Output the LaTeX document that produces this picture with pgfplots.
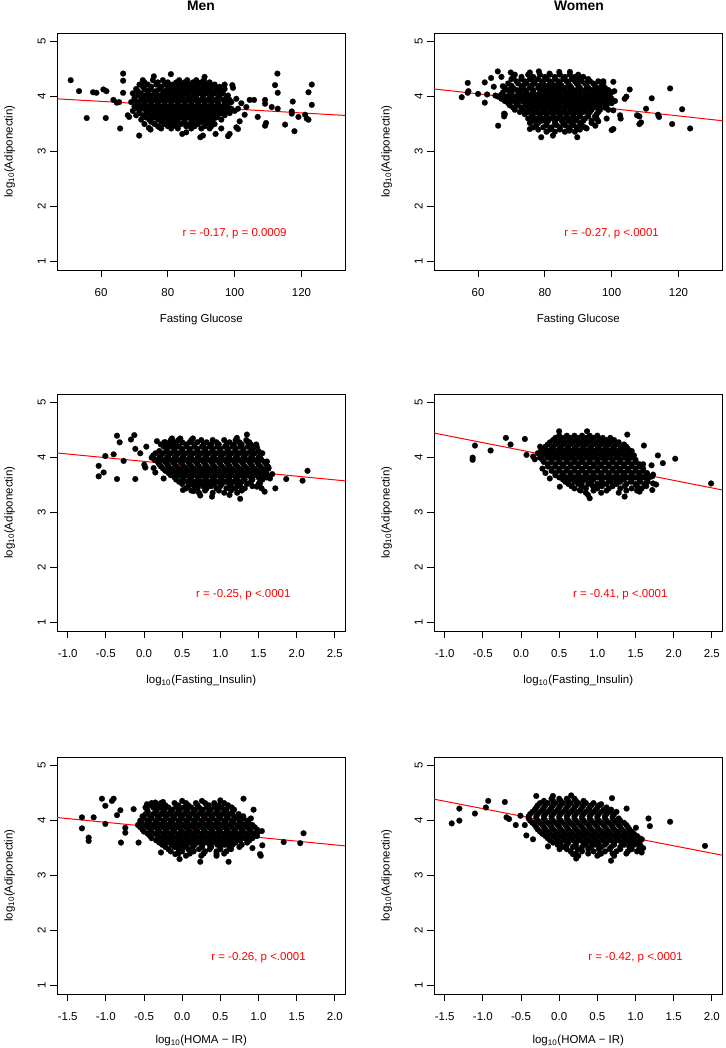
\documentclass[border=0pt]{standalone}
\usepackage{fontspec}
\setmainfont{Liberation Sans}
\usepackage{pgfplots}
\pgfplotsset{compat=1.18}
\pgfplotsset{
  panel/.style={
    scale only axis, width=216.4pt, height=177.75pt, anchor=north west,
    ymin=0.84, ymax=5.16, ytick={1,2,3,4,5}, yticklabels={1,2,3,4,5},
    tick align=outside, xtick pos=left, ytick pos=left,
    major tick length=5pt,
    axis line style={line width=0.7pt},
    tick style={black, line width=0.7pt},
    yticklabel style={rotate=90, anchor=center, inner sep=0pt},
    yticklabel shift=6.45pt,
    xticklabel style={anchor=center, inner sep=0pt},
    xticklabel shift=11.75pt,
    ylabel={log\textsubscript{10}(Adiponectin)},
    ylabel style={at={([xshift=-35.5pt]axis description cs:0,0.5)}, anchor=center, inner sep=0pt},
    xlabel style={at={([yshift=-37.5pt]axis description cs:0.5,0)}, anchor=center, inner sep=0pt},
    clip=false,
  },
  dots/.style={only marks, mark=*, mark size=2.2pt, mark options={fill=black, draw=black, line width=0.1pt}},
  fit/.style={red, line width=0.75pt, no marks},
  glu/.style={xmin=46.8, xmax=133.2, xtick={60,80,100,120}, xticklabels={60,80,100,120}, xlabel={Fasting Glucose}},
  ins/.style={xmin=-1.14, xmax=2.64, xtick={-1,-0.5,0,0.5,1,1.5,2,2.5},
    xticklabels={-1.0,-0.5,0.0,0.5,1.0,1.5,2.0,2.5}, xlabel={log\textsubscript{10}(Fasting\_Insulin)}},
  homa/.style={xmin=-1.64, xmax=2.14, xtick={-1.5,-1,-0.5,0,0.5,1,1.5,2},
    xticklabels={-1.5,-1.0,-0.5,0.0,0.5,1.0,1.5,2.0}, xlabel={log\textsubscript{10}(HOMA − IR)},
    xlabel style={at={([yshift=-35pt]axis description cs:0.5,0)}}},
}
\begin{document}
\begin{tikzpicture}[font=\fontsize{8.6}{10.3}\selectfont]
\path[use as bounding box] (0pt,0pt) rectangle (543.75pt,-786pt);
\node[font=\bfseries\fontsize{10.4}{12}\selectfont] at (150.75pt,-4.5pt) {Men};
\node[font=\bfseries\fontsize{10.4}{12}\selectfont] at (434.25pt,-4.5pt) {Women};

% ---------------- Panel 1: Men, Fasting Glucose
\begin{axis}[panel, glu, at={(42.75pt,-24.75pt)}]
\addplot[dots] coordinates {
(50.9,4.30) (53.4,4.10) (55.7,3.61) (57.6,4.08) (58.6,4.07) (60.7,4.13) (61.6,4.10) (61.4,3.61) (63.7,3.94) (64.7,3.89) (65.4,3.90) (65.7,3.42) (66.6,4.42) (66.6,4.29) (66.6,4.07) (68.0,3.66) (68.4,3.63) (71.4,3.29) (74.3,3.43) (74.8,3.40) (77.5,3.44) (84.3,3.32) (85.5,3.35) (89.7,3.26) (90.5,3.29) (94.3,3.32) (98.0,3.28) (98.5,3.32) (101.0,3.41) (100.5,3.44) (99.3,4.21) (99.5,4.16) (100.5,3.96) (102,3.88) (103.5,3.81) (104.5,3.94) (105.8,3.94) (106.9,3.63) (109.1,3.94) (109.1,3.87) (109.4,3.52) (109.1,3.47) (111.1,3.81) (112.1,4.21) (112.8,4.42) (112.9,4.07) (112.9,3.78) (115.1,3.49) (117.4,3.91) (117.1,3.73) (117.1,3.69) (117.9,3.37) (119.1,3.63) (121.1,3.67) (121.6,3.60) (122.1,3.58) (122.1,4.08) (123.1,4.22) (123.1,3.85) (103.0,3.67) (101,3.78) (101.5,3.55) (80.9,4.41) (75.8,4.37) (91,4.36)
(72.5,4.30) (75.5,4.30) (78.5,4.30) (83.4,4.30) (85.8,4.30) (88.5,4.30) (90.8,4.30)
(71.5,4.22) (74,4.22) (76.5,4.22) (79,4.22) (81.5,4.22) (84,4.22) (86.5,4.22) (89,4.22) (91.5,4.22) (94,4.22) (97,4.22)
(70.5,4.14) (73,4.14) (75,4.14) (77.5,4.14) (80,4.14) (82,4.14) (84.5,4.14) (87,4.14) (89.5,4.14) (92,4.14) (94.5,4.14) (97,4.14)
(69.5,4.06) (72,4.06) (74,4.06) (76,4.06) (78.5,4.06) (80.5,4.06) (82.5,4.06) (85,4.06) (87.5,4.06) (89.5,4.06) (91.5,4.06) (94,4.06) (96.5,4.06)
(70,3.98) (72.5,3.98) (74.5,3.98) (76.5,3.98) (78.5,3.98) (80.5,3.98) (82.5,3.98) (84.5,3.98) (86.5,3.98) (88.5,3.98) (90.5,3.98) (92.5,3.98) (95,3.98) (97.5,3.98)
(69,3.90) (71,3.90) (73,3.90) (75,3.90) (77,3.90) (79,3.90) (81,3.90) (83,3.90) (85,3.90) (87,3.90) (89,3.90) (91,3.90) (93,3.90) (95,3.90) (97.5,3.90) (99,3.90)
(70,3.82) (72,3.82) (74,3.82) (76,3.82) (78,3.82) (80,3.82) (82,3.82) (84,3.82) (86,3.82) (88,3.82) (90,3.82) (92,3.82) (94,3.82) (96,3.82) (98,3.82)
(69.5,3.74) (71.5,3.74) (73.5,3.74) (75.5,3.74) (77.5,3.74) (79.5,3.74) (81.5,3.74) (83.5,3.74) (85.5,3.74) (87.5,3.74) (89.5,3.74) (91.5,3.74) (93.5,3.74) (95.5,3.74) (97.5,3.74) (100,3.74)
(70.5,3.66) (72.5,3.66) (75,3.66) (77,3.66) (79,3.66) (81,3.66) (83,3.66) (85,3.66) (87,3.66) (89,3.66) (91,3.66) (93,3.66) (95,3.66) (97,3.66)
(72,3.58) (74.5,3.58) (77,3.58) (79,3.58) (81,3.58) (83,3.58) (85,3.58) (87,3.58) (89,3.58) (91,3.58) (93.5,3.58) (96,3.58)
(73,3.50) (76,3.50) (79,3.50) (81.5,3.50) (84,3.50) (86.5,3.50) (89,3.50) (91.5,3.50) (94,3.50)
(78,3.42) (81,3.42) (83,3.42) (87,3.42) (90,3.42) (92.5,3.42) (96,3.42)
(73,4.26) (77,4.26) (80,4.26) (82.5,4.26) (85,4.26) (87.5,4.26) (90,4.26) (92.5,4.26)
(72.5,4.18) (75,4.18) (78,4.18) (80.5,4.18) (83,4.18) (85.5,4.18) (88,4.18) (90.5,4.18) (93,4.18) (95.5,4.18)
(71,4.10) (74,4.10) (76.5,4.10) (79,4.10) (81,4.10) (83.5,4.10) (86,4.10) (88.5,4.10) (90.5,4.10) (93,4.10) (95.5,4.10)
(71,4.02) (73,4.02) (75,4.02) (77.5,4.02) (79.5,4.02) (81.5,4.02) (83.5,4.02) (86,4.02) (88,4.02) (90.5,4.02) (93,4.02) (95.5,4.02) (98,4.02)
(70,3.94) (72,3.94) (74,3.94) (76,3.94) (78,3.94) (80,3.94) (82,3.94) (84,3.94) (86,3.94) (88,3.94) (90,3.94) (92,3.94) (94,3.94) (96.5,3.94) (98.5,3.94)
(71,3.86) (73,3.86) (75,3.86) (77,3.86) (79,3.86) (81,3.86) (83,3.86) (85,3.86) (87,3.86) (89,3.86) (91,3.86) (93,3.86) (95,3.86) (97,3.86)
(71,3.78) (73,3.78) (75,3.78) (77,3.78) (79,3.78) (81,3.78) (83,3.78) (85,3.78) (87,3.78) (89,3.78) (91,3.78) (93,3.78) (95,3.78) (97,3.78) (99,3.78)
(71.5,3.70) (74,3.70) (76,3.70) (78,3.70) (80,3.70) (82,3.70) (84,3.70) (86,3.70) (88,3.70) (90,3.70) (92,3.70) (94,3.70) (96,3.70) (98.5,3.70)
(73.5,3.62) (76,3.62) (78,3.62) (80,3.62) (82,3.62) (84,3.62) (86,3.62) (88,3.62) (90,3.62) (92,3.62) (94.5,3.62)
(75,3.54) (78,3.54) (80,3.54) (82.5,3.54) (85,3.54) (87.5,3.54) (90,3.54) (92.5,3.54)
(77,3.46) (80,3.46) (82.5,3.46) (85.5,3.46) (88,3.46) (91,3.46) (93,3.46)
};
\addplot[fit] coordinates {(46.8,3.96) (133.2,3.657)};
\node[text=red] at (axis cs:100,1.5) {r = -0.17, p = 0.0009};
\end{axis}

% ---------------- Panel 2: Women, Fasting Glucose
\begin{axis}[panel, glu, at={(325.5pt,-24.75pt)}]
\addplot[dots] coordinates {
(55.1,3.99) (56.9,4.25) (57.1,4.10) (56.9,4.07) (60.0,4.05) (62.0,4.26) (62.0,3.89) (62.7,4.04) (63.9,4.34) (64.7,4.18) (65.2,4.02) (65.9,4.46) (66.0,3.47) (67.0,4.36) (67.4,4.19) (67.8,3.69) (67.8,3.64) (69.8,4.44) (70.6,4.36) (75.5,4.44) (78.2,4.46) (81.4,4.42) (84.3,4.45) (87.5,4.45) (90.2,4.37) (93.0,4.30) (75.5,3.41) (78.9,3.26) (82.4,3.29) (87.3,3.38) (89.7,3.26) (95.1,3.47) (97.5,4.28) (100.5,4.27) (100.8,4.10) (103.9,3.96) (104.4,4.00) (105.4,4.13) (100.5,3.41) (100.0,3.39) (102.5,3.66) (102.7,3.60) (100.5,3.75) (107.6,3.66) (108.3,3.64) (108.8,3.53) (108.3,3.50) (110.3,3.78) (112.0,3.97) (113.9,3.67) (114.2,3.63) (117.5,4.15) (118.1,3.50) (121.1,3.77) (123.5,3.42) (92.5,3.42) (96,3.55) (98.5,3.60)
(71,4.40) (75,4.40) (78.5,4.40) (81.5,4.40) (84.5,4.40) (87.5,4.40) (90,4.40)
(70,4.32) (73,4.32) (75.5,4.32) (78,4.32) (80.5,4.32) (83,4.32) (85.5,4.32) (88,4.32) (90.5,4.32) (93,4.32)
(69,4.24) (72,4.24) (74.5,4.24) (77,4.24) (79.5,4.24) (82,4.24) (84.5,4.24) (87,4.24) (89.5,4.24) (92,4.24) (94.5,4.24) (97.5,4.24)
(68,4.16) (70.5,4.16) (73,4.16) (75.5,4.16) (78,4.16) (80,4.16) (82,4.16) (84,4.16) (86,4.16) (88,4.16) (90.5,4.16) (93,4.16) (95.5,4.16) (98,4.16)
(67.5,4.08) (70,4.08) (72.5,4.08) (74.5,4.08) (76.5,4.08) (78.5,4.08) (80.5,4.08) (82.5,4.08) (84.5,4.08) (86.5,4.08) (88.5,4.08) (90.5,4.08) (92.5,4.08) (95,4.08) (97.5,4.08) (100,4.08)
(66,4.00) (68.5,4.00) (71,4.00) (73,4.00) (75,4.00) (77,4.00) (79,4.00) (81,4.00) (83,4.00) (85,4.00) (87,4.00) (89,4.00) (91,4.00) (93,4.00) (95,4.00) (97,4.00) (99.5,4.00)
(68,3.92) (70.5,3.92) (73,3.92) (75,3.92) (77,3.92) (79,3.92) (81,3.92) (83,3.92) (85,3.92) (87,3.92) (89,3.92) (91,3.92) (93,3.92) (95,3.92) (97,3.92) (99,3.92) (101,3.92)
(69.5,3.84) (72,3.84) (74.5,3.84) (76.5,3.84) (78.5,3.84) (80.5,3.84) (82.5,3.84) (84.5,3.84) (86.5,3.84) (88.5,3.84) (90.5,3.84) (92.5,3.84) (94.5,3.84) (96.5,3.84) (98.5,3.84)
(71,3.76) (73.5,3.76) (76,3.76) (78,3.76) (80,3.76) (82,3.76) (84,3.76) (86,3.76) (88,3.76) (90,3.76) (92,3.76) (94,3.76) (96.5,3.76) (99,3.76)
(68,3.68) (74,3.68) (76.5,3.68) (78.5,3.68) (80.5,3.68) (82.5,3.68) (84.5,3.68) (86.5,3.68) (88.5,3.68) (90.5,3.68) (93,3.68) (95.5,3.68)
(75,3.60) (77.5,3.60) (79.5,3.60) (81.5,3.60) (83.5,3.60) (85.5,3.60) (87.5,3.60) (89.5,3.60) (92,3.60) (95.5,3.60)
(75.5,3.52) (78,3.52) (80.5,3.52) (83,3.52) (85.5,3.52) (88,3.52) (90.5,3.52) (94,3.52)
(76.5,3.44) (79.5,3.44) (82,3.44) (84.5,3.44) (87,3.44) (89.5,3.44) (92,3.44)
(80.5,3.36) (83,3.36) (86,3.36) (89,3.36)
(73,4.36) (76.5,4.36) (80,4.36) (83,4.36) (86,4.36) (89,4.36) (91.5,4.36)
(71.5,4.28) (74,4.28) (76.5,4.28) (79,4.28) (81.5,4.28) (84,4.28) (86.5,4.28) (89,4.28) (91,4.28) (93.5,4.28) (96,4.28)
(70,4.20) (73.5,4.20) (76,4.20) (78.5,4.20) (81,4.20) (83,4.20) (85,4.20) (87.5,4.20) (90,4.20) (92.5,4.20) (95,4.20) (97,4.20)
(69,4.12) (71.5,4.12) (74,4.12) (76.5,4.12) (79,4.12) (81,4.12) (83,4.12) (85,4.12) (87.5,4.12) (89.5,4.12) (92,4.12) (94,4.12) (96.5,4.12) (99,4.12)
(67,4.04) (69.5,4.04) (72,4.04) (74,4.04) (76,4.04) (78,4.04) (80,4.04) (82,4.04) (84,4.04) (86,4.04) (88,4.04) (90,4.04) (92,4.04) (94,4.04) (96,4.04) (98.5,4.04)
(67,3.96) (69.5,3.96) (72,3.96) (74,3.96) (76,3.96) (78,3.96) (80,3.96) (82,3.96) (84,3.96) (86,3.96) (88,3.96) (90,3.96) (92,3.96) (94,3.96) (96,3.96) (98,3.96) (100,3.96)
(69,3.88) (71.5,3.88) (74,3.88) (76,3.88) (78,3.88) (80,3.88) (82,3.88) (84,3.88) (86,3.88) (88,3.88) (90,3.88) (92,3.88) (94,3.88) (96,3.88) (98,3.88) (100,3.88)
(70.5,3.80) (73,3.80) (75,3.80) (77.5,3.80) (79.5,3.80) (81.5,3.80) (83.5,3.80) (85.5,3.80) (87.5,3.80) (89.5,3.80) (91.5,3.80) (93.5,3.80) (95.5,3.80) (98,3.80)
(72.5,3.72) (75,3.72) (77.5,3.72) (79.5,3.72) (81.5,3.72) (83.5,3.72) (85.5,3.72) (87.5,3.72) (89.5,3.72) (91.5,3.72) (93.5,3.72) (96,3.72)
(76,3.64) (78.5,3.64) (80.5,3.64) (82.5,3.64) (84.5,3.64) (86.5,3.64) (88.5,3.64) (90.5,3.64) (93,3.64) (95,3.64)
(76.5,3.56) (79,3.56) (81,3.56) (83,3.56) (85,3.56) (87,3.56) (89,3.56) (91.5,3.56) (94,3.56)
(77.5,3.48) (80.5,3.48) (83.5,3.48) (86,3.48) (88.5,3.48) (91,3.48)
(78,3.40) (81.5,3.40) (84.5,3.40) (87.5,3.40) (90.5,3.40)
};
\addplot[fit] coordinates {(46.8,4.14) (133.2,3.56)};
\node[text=red] at (axis cs:100,1.5) {r = -0.27, p <.0001};
\end{axis}

% ---------------- Panel 3: Men, Insulin
\begin{axis}[panel, ins, at={(42.75pt,-295.5pt)}]
\addplot[dots] coordinates {
(-0.594,3.85) (-0.594,3.66) (-0.529,3.73) (-0.507,4.03) (-0.354,4.40) (-0.319,4.28) (-0.398,4.06) (-0.354,3.61) (-0.267,3.94) (-0.171,4.33) (-0.127,4.41) (-0.114,4.16) (-0.114,3.61) (-0.049,4.08) (0.030,4.20) (0.004,3.87) (0.017,3.82) (0.169,4.30) (0.265,4.28) (0.126,3.81) (0.148,3.73) (0.257,3.62) (0.366,4.35) (0.379,4.28) (0.475,4.35) (0.641,4.35) (1.217,4.36) (1.348,4.42) (1.348,4.30) (1.479,4.19) (1.61,3.93) (1.63,3.82) (1.72,3.44) (1.863,3.61) (2.077,3.58) (2.142,3.76) (1.52,3.53) (1.54,3.44) (0.51,3.41) (0.65,3.39) (0.737,3.31) (0.89,3.29) (1.12,3.32) (1.26,3.25) (1.48,3.47) (1.58,3.38) (1.65,3.62) (1.68,3.70)
(0.35,4.32) (0.45,4.32) (0.62,4.32) (0.75,4.32) (0.90,4.32) (1.05,4.32) (1.20,4.32) (1.34,4.32)
(0.22,4.24) (0.32,4.24) (0.42,4.24) (0.55,4.24) (0.66,4.24) (0.78,4.24) (0.88,4.24) (0.98,4.24) (1.08,4.24) (1.18,4.24) (1.28,4.24) (1.40,4.24) (1.47,4.24)
(0.30,4.16) (0.40,4.16) (0.50,4.16) (0.60,4.16) (0.70,4.16) (0.80,4.16) (0.90,4.16) (1.00,4.16) (1.10,4.16) (1.20,4.16) (1.30,4.16) (1.42,4.16)
(0.15,4.08) (0.25,4.08) (0.35,4.08) (0.45,4.08) (0.55,4.08) (0.65,4.08) (0.75,4.08) (0.85,4.08) (0.95,4.08) (1.05,4.08) (1.15,4.08) (1.25,4.08) (1.35,4.08) (1.45,4.08) (1.55,4.08)
(0.10,4.00) (0.20,4.00) (0.30,4.00) (0.40,4.00) (0.50,4.00) (0.60,4.00) (0.70,4.00) (0.80,4.00) (0.90,4.00) (1.00,4.00) (1.10,4.00) (1.20,4.00) (1.30,4.00) (1.40,4.00) (1.50,4.00)
(0.18,3.92) (0.28,3.92) (0.38,3.92) (0.48,3.92) (0.58,3.92) (0.68,3.92) (0.78,3.92) (0.88,3.92) (0.98,3.92) (1.08,3.92) (1.18,3.92) (1.28,3.92) (1.38,3.92) (1.48,3.92) (1.58,3.92)
(0.22,3.84) (0.32,3.84) (0.42,3.84) (0.52,3.84) (0.62,3.84) (0.72,3.84) (0.82,3.84) (0.92,3.84) (1.02,3.84) (1.12,3.84) (1.22,3.84) (1.32,3.84) (1.42,3.84) (1.52,3.84) (1.62,3.84)
(0.28,3.76) (0.38,3.76) (0.48,3.76) (0.58,3.76) (0.68,3.76) (0.78,3.76) (0.88,3.76) (0.98,3.76) (1.08,3.76) (1.18,3.76) (1.28,3.76) (1.38,3.76) (1.48,3.76) (1.58,3.76)
(0.35,3.68) (0.45,3.68) (0.55,3.68) (0.65,3.68) (0.75,3.68) (0.85,3.68) (0.95,3.68) (1.05,3.68) (1.15,3.68) (1.25,3.68) (1.35,3.68) (1.45,3.68) (1.55,3.68) (1.62,3.68)
(0.42,3.60) (0.52,3.60) (0.62,3.60) (0.72,3.60) (0.82,3.60) (0.92,3.60) (1.02,3.60) (1.12,3.60) (1.22,3.60) (1.32,3.60) (1.42,3.60) (1.55,3.60)
(0.50,3.52) (0.62,3.52) (0.72,3.52) (0.82,3.52) (0.92,3.52) (1.02,3.52) (1.12,3.52) (1.22,3.52) (1.35,3.52) (1.50,3.52)
(0.55,3.44) (0.70,3.44) (0.82,3.44) (0.95,3.44) (1.08,3.44) (1.20,3.44) (1.32,3.44)
(0.72,3.36) (0.90,3.36) (1.05,3.36) (1.22,3.36)
(0.28,4.28) (0.40,4.28) (0.50,4.28) (0.60,4.28) (0.70,4.28) (0.82,4.28) (0.95,4.28) (1.12,4.28) (1.25,4.28) (1.38,4.28)
(0.26,4.20) (0.36,4.20) (0.46,4.20) (0.56,4.20) (0.66,4.20) (0.76,4.20) (0.86,4.20) (0.96,4.20) (1.06,4.20) (1.16,4.20) (1.26,4.20) (1.36,4.20) (1.45,4.20)
(0.20,4.12) (0.30,4.12) (0.40,4.12) (0.50,4.12) (0.60,4.12) (0.70,4.12) (0.80,4.12) (0.90,4.12) (1.00,4.12) (1.10,4.12) (1.20,4.12) (1.30,4.12) (1.40,4.12) (1.50,4.12)
(0.12,4.04) (0.22,4.04) (0.32,4.04) (0.42,4.04) (0.52,4.04) (0.62,4.04) (0.72,4.04) (0.82,4.04) (0.92,4.04) (1.02,4.04) (1.12,4.04) (1.22,4.04) (1.32,4.04) (1.42,4.04) (1.52,4.04)
(0.14,3.96) (0.24,3.96) (0.34,3.96) (0.44,3.96) (0.54,3.96) (0.64,3.96) (0.74,3.96) (0.84,3.96) (0.94,3.96) (1.04,3.96) (1.14,3.96) (1.24,3.96) (1.34,3.96) (1.44,3.96) (1.54,3.96)
(0.20,3.88) (0.30,3.88) (0.40,3.88) (0.50,3.88) (0.60,3.88) (0.70,3.88) (0.80,3.88) (0.90,3.88) (1.00,3.88) (1.10,3.88) (1.20,3.88) (1.30,3.88) (1.40,3.88) (1.50,3.88) (1.60,3.88)
(0.25,3.80) (0.35,3.80) (0.45,3.80) (0.55,3.80) (0.65,3.80) (0.75,3.80) (0.85,3.80) (0.95,3.80) (1.05,3.80) (1.15,3.80) (1.25,3.80) (1.35,3.80) (1.45,3.80) (1.55,3.80) (1.63,3.80)
(0.32,3.72) (0.42,3.72) (0.52,3.72) (0.62,3.72) (0.72,3.72) (0.82,3.72) (0.92,3.72) (1.02,3.72) (1.12,3.72) (1.22,3.72) (1.32,3.72) (1.42,3.72) (1.52,3.72) (1.60,3.72)
(0.40,3.64) (0.50,3.64) (0.60,3.64) (0.70,3.64) (0.80,3.64) (0.90,3.64) (1.00,3.64) (1.10,3.64) (1.20,3.64) (1.30,3.64) (1.40,3.64) (1.50,3.64) (1.60,3.64)
(0.46,3.56) (0.57,3.56) (0.67,3.56) (0.77,3.56) (0.87,3.56) (0.97,3.56) (1.07,3.56) (1.17,3.56) (1.28,3.56) (1.40,3.56) (1.52,3.56)
(0.58,3.48) (0.66,3.48) (0.77,3.48) (0.88,3.48) (1.00,3.48) (1.14,3.48) (1.26,3.48) (1.42,3.48)
(0.62,3.40) (0.80,3.40) (0.98,3.40) (1.14,3.40) (1.28,3.40)
};
\addplot[fit] coordinates {(-1.14,4.085) (2.64,3.576)};
\node[text=red] at (axis cs:1.3,1.5) {r = -0.25, p <.0001};
\end{axis}

% ---------------- Panel 4: Women, Insulin
\begin{axis}[panel, ins, at={(325.5pt,-295.5pt)}]
\addplot[dots] coordinates {
(-0.634,4.00) (-0.634,3.96) (-0.603,4.22) (-0.398,4.13) (-0.198,4.36) (-0.137,4.24) (0.050,4.34) (0.072,4.05) (0.159,4.02) (0.181,3.97) (0.25,4.20) (0.499,4.48) (0.865,4.48) (1.392,4.42) (1.61,4.22) (1.60,3.88) (1.71,3.86) (1.73,3.69) (1.72,3.66) (1.793,4.04) (1.858,3.90) (2.02,3.98) (2.49,3.53) (1.73,3.53) (1.77,3.51) (1.72,3.41) (0.377,3.62) (0.508,3.47) (0.77,3.41) (0.878,3.32) (0.90,3.26) (1.357,3.29) (1.553,3.38) (0.28,3.80) (0.32,3.72)
(0.50,4.40) (0.60,4.40) (0.70,4.40) (0.80,4.40) (0.90,4.40) (1.00,4.40)
(0.42,4.32) (0.52,4.32) (0.62,4.32) (0.72,4.32) (0.82,4.32) (0.92,4.32) (1.02,4.32) (1.12,4.32) (1.22,4.32)
(0.35,4.24) (0.45,4.24) (0.55,4.24) (0.65,4.24) (0.75,4.24) (0.85,4.24) (0.95,4.24) (1.05,4.24) (1.15,4.24) (1.25,4.24) (1.35,4.24)
(0.30,4.16) (0.40,4.16) (0.50,4.16) (0.60,4.16) (0.70,4.16) (0.80,4.16) (0.90,4.16) (1.00,4.16) (1.10,4.16) (1.20,4.16) (1.30,4.16) (1.40,4.16)
(0.22,4.08) (0.32,4.08) (0.42,4.08) (0.52,4.08) (0.62,4.08) (0.72,4.08) (0.82,4.08) (0.92,4.08) (1.02,4.08) (1.12,4.08) (1.22,4.08) (1.32,4.08) (1.42,4.08)
(0.25,4.00) (0.35,4.00) (0.45,4.00) (0.55,4.00) (0.65,4.00) (0.75,4.00) (0.85,4.00) (0.95,4.00) (1.05,4.00) (1.15,4.00) (1.25,4.00) (1.35,4.00) (1.45,4.00)
(0.30,3.92) (0.40,3.92) (0.50,3.92) (0.60,3.92) (0.70,3.92) (0.80,3.92) (0.90,3.92) (1.00,3.92) (1.10,3.92) (1.20,3.92) (1.30,3.92) (1.40,3.92) (1.50,3.92)
(0.35,3.84) (0.45,3.84) (0.55,3.84) (0.65,3.84) (0.75,3.84) (0.85,3.84) (0.95,3.84) (1.05,3.84) (1.15,3.84) (1.25,3.84) (1.35,3.84) (1.45,3.84) (1.55,3.84)
(0.40,3.76) (0.50,3.76) (0.60,3.76) (0.70,3.76) (0.80,3.76) (0.90,3.76) (1.00,3.76) (1.10,3.76) (1.20,3.76) (1.30,3.76) (1.40,3.76) (1.50,3.76) (1.60,3.76)
(0.45,3.68) (0.55,3.68) (0.65,3.68) (0.75,3.68) (0.85,3.68) (0.95,3.68) (1.05,3.68) (1.15,3.68) (1.25,3.68) (1.35,3.68) (1.45,3.68) (1.55,3.68) (1.65,3.68)
(0.55,3.60) (0.65,3.60) (0.75,3.60) (0.85,3.60) (0.95,3.60) (1.05,3.60) (1.15,3.60) (1.25,3.60) (1.35,3.60) (1.45,3.60) (1.55,3.60) (1.65,3.60)
(0.62,3.52) (0.75,3.52) (0.88,3.52) (1.00,3.52) (1.12,3.52) (1.25,3.52) (1.38,3.52) (1.50,3.52) (1.62,3.52)
(0.70,3.44) (0.85,3.44) (1.00,3.44) (1.15,3.44) (1.30,3.44) (1.45,3.44) (1.58,3.44)
(0.85,3.36) (1.05,3.36) (1.28,3.36)
(0.45,4.36) (0.55,4.36) (0.65,4.36) (0.75,4.36) (0.85,4.36) (0.95,4.36) (1.07,4.36) (1.17,4.36)
(0.38,4.28) (0.48,4.28) (0.58,4.28) (0.68,4.28) (0.78,4.28) (0.88,4.28) (0.98,4.28) (1.08,4.28) (1.18,4.28) (1.28,4.28)
(0.32,4.20) (0.42,4.20) (0.52,4.20) (0.62,4.20) (0.72,4.20) (0.82,4.20) (0.92,4.20) (1.02,4.20) (1.12,4.20) (1.22,4.20) (1.32,4.20) (1.38,4.20)
(0.26,4.12) (0.36,4.12) (0.46,4.12) (0.56,4.12) (0.66,4.12) (0.76,4.12) (0.86,4.12) (0.96,4.12) (1.06,4.12) (1.16,4.12) (1.26,4.12) (1.36,4.12) (1.45,4.12)
(0.28,4.04) (0.38,4.04) (0.48,4.04) (0.58,4.04) (0.68,4.04) (0.78,4.04) (0.88,4.04) (0.98,4.04) (1.08,4.04) (1.18,4.04) (1.28,4.04) (1.38,4.04) (1.48,4.04)
(0.28,3.96) (0.40,3.96) (0.50,3.96) (0.60,3.96) (0.70,3.96) (0.80,3.96) (0.90,3.96) (1.00,3.96) (1.10,3.96) (1.20,3.96) (1.30,3.96) (1.40,3.96) (1.50,3.96)
(0.35,3.88) (0.45,3.88) (0.55,3.88) (0.65,3.88) (0.75,3.88) (0.85,3.88) (0.95,3.88) (1.05,3.88) (1.15,3.88) (1.25,3.88) (1.35,3.88) (1.45,3.88) (1.55,3.88)
(0.40,3.80) (0.50,3.80) (0.60,3.80) (0.70,3.80) (0.80,3.80) (0.90,3.80) (1.00,3.80) (1.10,3.80) (1.20,3.80) (1.30,3.80) (1.40,3.80) (1.50,3.80) (1.60,3.80)
(0.45,3.72) (0.55,3.72) (0.65,3.72) (0.75,3.72) (0.85,3.72) (0.95,3.72) (1.05,3.72) (1.15,3.72) (1.25,3.72) (1.35,3.72) (1.45,3.72) (1.55,3.72) (1.65,3.72)
(0.50,3.64) (0.60,3.64) (0.70,3.64) (0.80,3.64) (0.90,3.64) (1.00,3.64) (1.10,3.64) (1.20,3.64) (1.30,3.64) (1.40,3.64) (1.50,3.64) (1.60,3.64) (1.68,3.64)
(0.58,3.56) (0.70,3.56) (0.80,3.56) (0.92,3.56) (1.06,3.56) (1.18,3.56) (1.30,3.56) (1.44,3.56) (1.56,3.56) (1.66,3.56)
(0.66,3.48) (0.80,3.48) (0.94,3.48) (1.06,3.48) (1.20,3.48) (1.36,3.48) (1.52,3.48) (1.64,3.48)
(0.78,3.40) (0.95,3.40) (1.12,3.40) (1.38,3.40) (1.52,3.40)
};
\addplot[fit] coordinates {(-1.14,4.449) (2.64,3.41)};
\node[text=red] at (axis cs:1.3,1.5) {r = -0.41, p <.0001};
\end{axis}

% ---------------- Panel 5: Men, HOMA-IR
\begin{axis}[panel, homa, at={(42.75pt,-567.75pt)}]
\addplot[dots] coordinates {
(-1.313,4.06) (-1.313,3.86) (-1.225,3.69) (-1.225,3.63) (-1.160,4.06) (-1.051,4.40) (-1.007,4.27) (-0.92,4.36) (-0.898,4.40) (-1.007,3.94) (-0.854,4.10) (-0.81,4.19) (-0.802,3.60) (-0.745,3.87) (-0.745,3.78) (-0.636,4.21) (-0.571,3.60) (-0.461,4.30) (-0.352,4.33) (-0.252,4.34) (0.804,4.40) (0.935,4.20) (0.90,4.04) (1.044,3.81) (1.02,3.39) (1.03,3.36) (0.98,3.72) (1.33,3.61) (1.546,3.59) (1.59,3.77) (0.75,4.05) (-0.278,3.42) (-0.09,3.39) (-0.034,3.30) (0.237,3.25) (0.608,3.25) (0.0,4.36) (0.259,4.36) (0.499,4.37) (1.05,3.55) (0.92,3.50)
(-0.40,4.32) (-0.28,4.32) (-0.10,4.32) (0.05,4.32) (0.18,4.32) (0.30,4.32) (0.42,4.32) (0.55,4.32)
(-0.48,4.24) (-0.38,4.24) (-0.28,4.24) (-0.18,4.24) (-0.08,4.24) (0.02,4.24) (0.12,4.24) (0.22,4.24) (0.32,4.24) (0.42,4.24) (0.52,4.24) (0.65,4.24)
(-0.45,4.16) (-0.35,4.16) (-0.25,4.16) (-0.15,4.16) (-0.05,4.16) (0.05,4.16) (0.15,4.16) (0.25,4.16) (0.35,4.16) (0.45,4.16) (0.55,4.16) (0.66,4.16)
(-0.52,4.08) (-0.42,4.08) (-0.32,4.08) (-0.22,4.08) (-0.12,4.08) (-0.02,4.08) (0.08,4.08) (0.18,4.08) (0.28,4.08) (0.38,4.08) (0.48,4.08) (0.58,4.08) (0.68,4.08) (0.80,4.08)
(-0.55,4.00) (-0.45,4.00) (-0.35,4.00) (-0.25,4.00) (-0.15,4.00) (-0.05,4.00) (0.05,4.00) (0.15,4.00) (0.25,4.00) (0.35,4.00) (0.45,4.00) (0.55,4.00) (0.65,4.00) (0.75,4.00) (0.85,4.00)
(-0.58,3.92) (-0.48,3.92) (-0.38,3.92) (-0.28,3.92) (-0.18,3.92) (-0.08,3.92) (0.02,3.92) (0.12,3.92) (0.22,3.92) (0.32,3.92) (0.42,3.92) (0.52,3.92) (0.62,3.92) (0.72,3.92) (0.82,3.92) (0.92,3.92)
(-0.52,3.84) (-0.42,3.84) (-0.32,3.84) (-0.22,3.84) (-0.12,3.84) (-0.02,3.84) (0.08,3.84) (0.18,3.84) (0.28,3.84) (0.38,3.84) (0.48,3.84) (0.58,3.84) (0.68,3.84) (0.78,3.84) (0.88,3.84) (0.98,3.84)
(-0.45,3.76) (-0.35,3.76) (-0.25,3.76) (-0.15,3.76) (-0.05,3.76) (0.05,3.76) (0.15,3.76) (0.25,3.76) (0.35,3.76) (0.45,3.76) (0.55,3.76) (0.65,3.76) (0.75,3.76) (0.85,3.76) (0.95,3.76)
(-0.40,3.68) (-0.28,3.68) (-0.18,3.68) (-0.08,3.68) (0.02,3.68) (0.12,3.68) (0.22,3.68) (0.32,3.68) (0.42,3.68) (0.52,3.68) (0.62,3.68) (0.72,3.68) (0.82,3.68) (0.92,3.68)
(-0.30,3.60) (-0.20,3.60) (-0.10,3.60) (0.00,3.60) (0.10,3.60) (0.20,3.60) (0.30,3.60) (0.40,3.60) (0.50,3.60) (0.60,3.60) (0.70,3.60) (0.85,3.60)
(-0.22,3.52) (-0.10,3.52) (0.02,3.52) (0.14,3.52) (0.26,3.52) (0.38,3.52) (0.50,3.52) (0.62,3.52) (0.75,3.52)
(-0.15,3.44) (0.00,3.44) (0.15,3.44) (0.30,3.44) (0.45,3.44) (0.58,3.44)
(0.05,3.36) (0.25,3.36) (0.45,3.36)
(-0.44,4.28) (-0.34,4.28) (-0.22,4.28) (-0.05,4.28) (0.08,4.28) (0.20,4.28) (0.35,4.28) (0.48,4.28) (0.60,4.28)
(-0.46,4.20) (-0.33,4.20) (-0.23,4.20) (-0.13,4.20) (-0.03,4.20) (0.07,4.20) (0.17,4.20) (0.27,4.20) (0.37,4.20) (0.47,4.20) (0.58,4.20) (0.68,4.20)
(-0.48,4.12) (-0.38,4.12) (-0.28,4.12) (-0.18,4.12) (-0.08,4.12) (0.02,4.12) (0.12,4.12) (0.22,4.12) (0.32,4.12) (0.42,4.12) (0.52,4.12) (0.62,4.12) (0.74,4.12)
(-0.50,4.04) (-0.40,4.04) (-0.30,4.04) (-0.20,4.04) (-0.10,4.04) (0.00,4.04) (0.10,4.04) (0.20,4.04) (0.30,4.04) (0.40,4.04) (0.50,4.04) (0.60,4.04) (0.70,4.04) (0.80,4.04)
(-0.53,3.96) (-0.43,3.96) (-0.33,3.96) (-0.23,3.96) (-0.13,3.96) (-0.03,3.96) (0.07,3.96) (0.17,3.96) (0.27,3.96) (0.37,3.96) (0.47,3.96) (0.57,3.96) (0.67,3.96) (0.77,3.96) (0.87,3.96)
(-0.55,3.88) (-0.45,3.88) (-0.35,3.88) (-0.25,3.88) (-0.15,3.88) (-0.05,3.88) (0.05,3.88) (0.15,3.88) (0.25,3.88) (0.35,3.88) (0.45,3.88) (0.55,3.88) (0.65,3.88) (0.75,3.88) (0.85,3.88) (0.95,3.88)
(-0.50,3.80) (-0.40,3.80) (-0.30,3.80) (-0.20,3.80) (-0.10,3.80) (0.00,3.80) (0.10,3.80) (0.20,3.80) (0.30,3.80) (0.40,3.80) (0.50,3.80) (0.60,3.80) (0.70,3.80) (0.80,3.80) (0.90,3.80) (1.00,3.80)
(-0.42,3.72) (-0.32,3.72) (-0.22,3.72) (-0.12,3.72) (-0.02,3.72) (0.08,3.72) (0.18,3.72) (0.28,3.72) (0.38,3.72) (0.48,3.72) (0.58,3.72) (0.68,3.72) (0.78,3.72) (0.88,3.72) (0.96,3.72)
(-0.34,3.64) (-0.24,3.64) (-0.14,3.64) (-0.04,3.64) (0.06,3.64) (0.16,3.64) (0.26,3.64) (0.36,3.64) (0.46,3.64) (0.56,3.64) (0.66,3.64) (0.76,3.64) (0.88,3.64)
(-0.26,3.56) (-0.14,3.56) (-0.04,3.56) (0.06,3.56) (0.16,3.56) (0.26,3.56) (0.36,3.56) (0.46,3.56) (0.56,3.56) (0.66,3.56) (0.78,3.56)
(-0.18,3.48) (-0.05,3.48) (0.08,3.48) (0.22,3.48) (0.36,3.48) (0.50,3.48) (0.64,3.48)
(-0.05,3.40) (0.10,3.40) (0.28,3.40) (0.45,3.40) (0.55,3.40)
};
\addplot[fit] coordinates {(-1.64,4.057) (2.14,3.539)};
\node[text=red] at (axis cs:1.0,1.5) {r = -0.26, p <.0001};
\end{axis}

% ---------------- Panel 6: Women, HOMA-IR
\begin{axis}[panel, homa, at={(325.5pt,-567.75pt)}]
\addplot[dots] coordinates {
(-1.408,3.95) (-1.308,4.22) (-1.308,4.00) (-1.104,4.13) (-0.96,4.24) (-0.93,4.36) (-0.712,4.34) (-0.69,4.06) (-0.656,4.03) (-0.569,3.92) (-0.508,4.09) (-0.451,3.92) (-0.43,3.73) (-0.30,4.45) (-0.343,3.66) (-0.082,4.45) (0.157,4.46) (0.692,4.41) (0.883,4.22) (1.005,3.87) (1.083,3.66) (1.17,4.04) (1.188,3.90) (1.453,3.98) (1.91,3.54) (-0.147,3.53) (0.005,3.48) (0.179,3.39) (0.222,3.31) (0.527,3.39) (0.679,3.27) (1.10,3.50) (1.08,3.42) (0.55,4.30)
(-0.10,4.40) (0.00,4.40) (0.10,4.40) (0.20,4.40)
(-0.25,4.32) (-0.15,4.32) (-0.05,4.32) (0.05,4.32) (0.15,4.32) (0.25,4.32) (0.35,4.32) (0.45,4.32)
(-0.30,4.24) (-0.20,4.24) (-0.10,4.24) (0.00,4.24) (0.10,4.24) (0.20,4.24) (0.30,4.24) (0.40,4.24) (0.50,4.24) (0.62,4.24)
(-0.35,4.16) (-0.25,4.16) (-0.15,4.16) (-0.05,4.16) (0.05,4.16) (0.15,4.16) (0.25,4.16) (0.35,4.16) (0.45,4.16) (0.55,4.16) (0.65,4.16) (0.75,4.16)
(-0.40,4.08) (-0.30,4.08) (-0.20,4.08) (-0.10,4.08) (0.00,4.08) (0.10,4.08) (0.20,4.08) (0.30,4.08) (0.40,4.08) (0.50,4.08) (0.60,4.08) (0.70,4.08)
(-0.38,4.00) (-0.28,4.00) (-0.18,4.00) (-0.08,4.00) (0.02,4.00) (0.12,4.00) (0.22,4.00) (0.32,4.00) (0.42,4.00) (0.52,4.00) (0.62,4.00) (0.72,4.00) (0.80,4.00)
(-0.32,3.92) (-0.22,3.92) (-0.12,3.92) (-0.02,3.92) (0.08,3.92) (0.18,3.92) (0.28,3.92) (0.38,3.92) (0.48,3.92) (0.58,3.92) (0.68,3.92) (0.78,3.92) (0.88,3.92)
(-0.28,3.84) (-0.18,3.84) (-0.08,3.84) (0.02,3.84) (0.12,3.84) (0.22,3.84) (0.32,3.84) (0.42,3.84) (0.52,3.84) (0.62,3.84) (0.72,3.84) (0.82,3.84) (0.92,3.84)
(-0.22,3.76) (-0.12,3.76) (-0.02,3.76) (0.08,3.76) (0.18,3.76) (0.28,3.76) (0.38,3.76) (0.48,3.76) (0.58,3.76) (0.68,3.76) (0.78,3.76) (0.88,3.76) (0.98,3.76)
(-0.15,3.68) (-0.05,3.68) (0.05,3.68) (0.15,3.68) (0.25,3.68) (0.35,3.68) (0.45,3.68) (0.55,3.68) (0.65,3.68) (0.75,3.68) (0.85,3.68) (0.95,3.68) (1.05,3.68)
(-0.08,3.60) (0.02,3.60) (0.12,3.60) (0.22,3.60) (0.32,3.60) (0.42,3.60) (0.52,3.60) (0.62,3.60) (0.72,3.60) (0.82,3.60) (0.92,3.60) (1.02,3.60)
(0.05,3.52) (0.18,3.52) (0.30,3.52) (0.42,3.52) (0.55,3.52) (0.68,3.52) (0.80,3.52) (0.92,3.52) (1.05,3.52)
(0.15,3.44) (0.30,3.44) (0.45,3.44) (0.60,3.44) (0.75,3.44) (0.90,3.44) (1.02,3.44)
(0.25,3.36) (0.50,3.36) (0.72,3.36)
(-0.20,4.36) (-0.08,4.36) (0.02,4.36) (0.12,4.36) (0.22,4.36) (0.32,4.36)
(-0.28,4.28) (-0.18,4.28) (-0.08,4.28) (0.02,4.28) (0.12,4.28) (0.22,4.28) (0.32,4.28) (0.42,4.28) (0.52,4.28)
(-0.32,4.20) (-0.22,4.20) (-0.12,4.20) (-0.02,4.20) (0.08,4.20) (0.18,4.20) (0.28,4.20) (0.38,4.20) (0.48,4.20) (0.58,4.20) (0.68,4.20)
(-0.38,4.12) (-0.28,4.12) (-0.18,4.12) (-0.08,4.12) (0.02,4.12) (0.12,4.12) (0.22,4.12) (0.32,4.12) (0.42,4.12) (0.52,4.12) (0.62,4.12) (0.72,4.12)
(-0.40,4.04) (-0.30,4.04) (-0.20,4.04) (-0.10,4.04) (0.00,4.04) (0.10,4.04) (0.20,4.04) (0.30,4.04) (0.40,4.04) (0.50,4.04) (0.60,4.04) (0.70,4.04) (0.78,4.04)
(-0.35,3.96) (-0.25,3.96) (-0.15,3.96) (-0.05,3.96) (0.05,3.96) (0.15,3.96) (0.25,3.96) (0.35,3.96) (0.45,3.96) (0.55,3.96) (0.65,3.96) (0.75,3.96) (0.85,3.96)
(-0.30,3.88) (-0.20,3.88) (-0.10,3.88) (0.00,3.88) (0.10,3.88) (0.20,3.88) (0.30,3.88) (0.40,3.88) (0.50,3.88) (0.60,3.88) (0.70,3.88) (0.80,3.88) (0.90,3.88)
(-0.25,3.80) (-0.15,3.80) (-0.05,3.80) (0.05,3.80) (0.15,3.80) (0.25,3.80) (0.35,3.80) (0.45,3.80) (0.55,3.80) (0.65,3.80) (0.75,3.80) (0.85,3.80) (0.95,3.80)
(-0.18,3.72) (-0.08,3.72) (0.02,3.72) (0.12,3.72) (0.22,3.72) (0.32,3.72) (0.42,3.72) (0.52,3.72) (0.62,3.72) (0.72,3.72) (0.82,3.72) (0.92,3.72) (1.02,3.72)
(-0.12,3.64) (-0.02,3.64) (0.08,3.64) (0.18,3.64) (0.28,3.64) (0.38,3.64) (0.48,3.64) (0.58,3.64) (0.68,3.64) (0.78,3.64) (0.88,3.64) (0.98,3.64) (1.06,3.64)
(-0.02,3.56) (0.10,3.56) (0.22,3.56) (0.35,3.56) (0.48,3.56) (0.60,3.56) (0.72,3.56) (0.85,3.56) (0.98,3.56) (1.06,3.56)
(0.10,3.48) (0.24,3.48) (0.38,3.48) (0.52,3.48) (0.66,3.48) (0.80,3.48) (0.95,3.48) (1.05,3.48)
(0.22,3.40) (0.38,3.40) (0.55,3.40) (0.70,3.40) (0.88,3.40)
};
\addplot[fit] coordinates {(-1.64,4.392) (2.14,3.369)};
\node[text=red] at (axis cs:1.0,1.5) {r = -0.42, p <.0001};
\end{axis}
\end{tikzpicture}
\end{document}
